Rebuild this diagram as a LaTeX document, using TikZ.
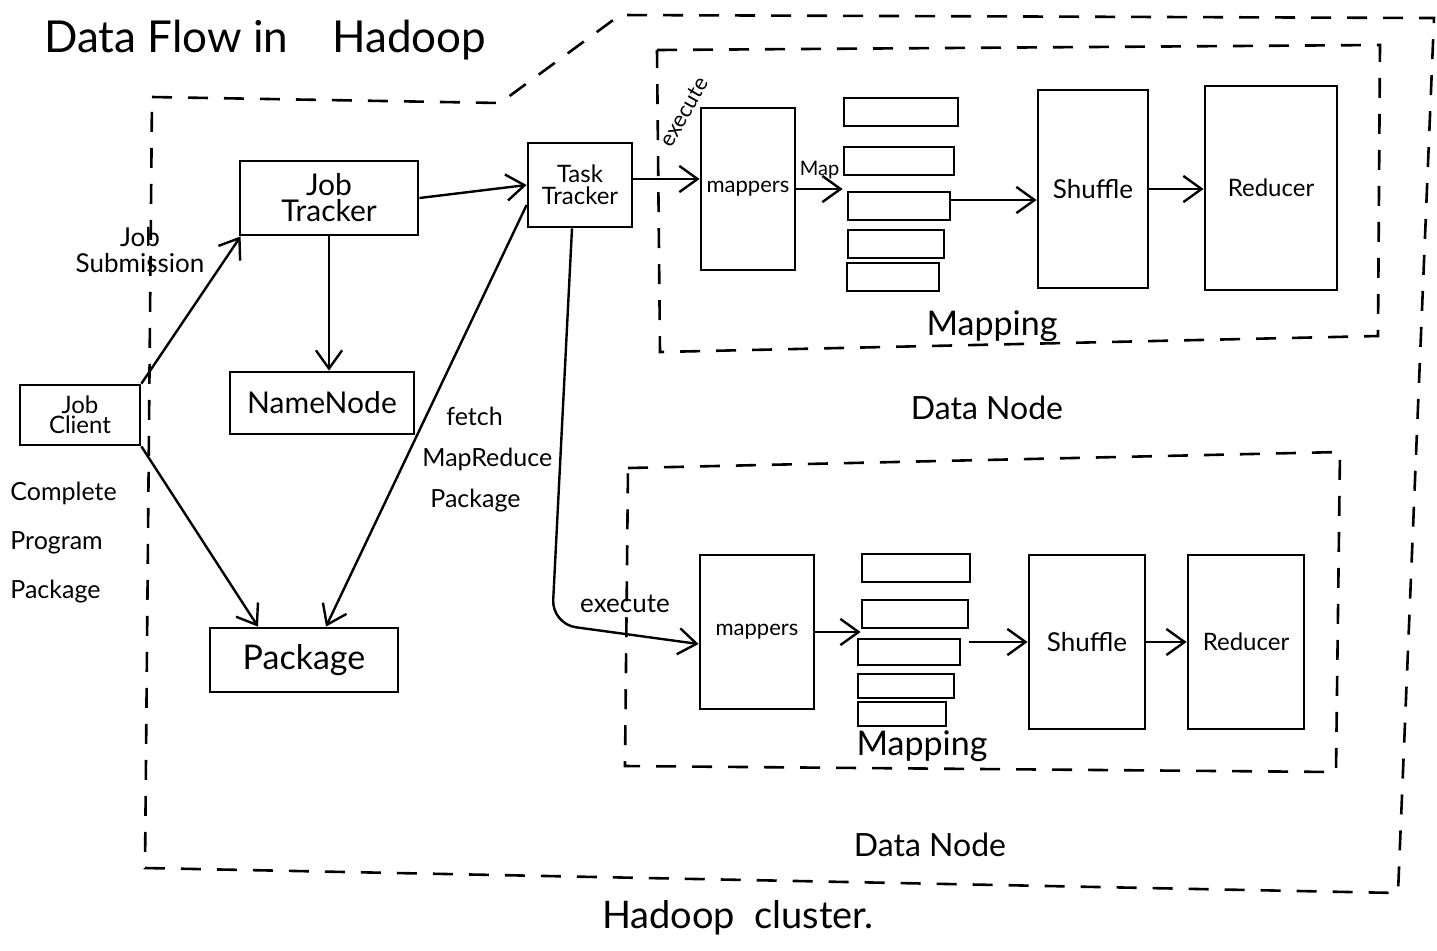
\documentclass[tikz,border=0pt]{standalone}
\usepackage{fontspec}
\setmainfont{Lato}
\usetikzlibrary{positioning, arrows.meta}

\newcommand{\fsz}[1]{\fontsize{#1}{#1}\selectfont}

\begin{document}
\begin{tikzpicture}[
    x=0.5pt, y=-0.5pt,
    >={Straight Barb[length=3.2mm, width=4.6mm, line width=1.2pt]},
    box/.style={draw, line width=1.4pt, align=center, inner sep=2pt},
    bar/.style={draw, line width=1.4pt, minimum height=14pt},
    zone/.style={line width=1.3pt, dash pattern=on 10pt off 8pt},
    flow/.style={->, line width=1.2pt},
    lbl/.style={align=left, inner sep=1pt},
  ]
  \useasboundingbox (0,0) rectangle (1437,950);

  % ============ Title ============
  \node[lbl, anchor=west, font=\fsz{22}] (title) at (42,40) {Data Flow in\quad Hadoop};

  % ============ Dashed zones ============
  % Hadoop cluster
  \draw[zone] (152,97) -- (500,103) -- (620,15) -- (1434,18)
    -- (1398,893) -- (145,868) -- cycle;
  % upper DataNode
  \draw[zone] (657,50) -- (1380,45) -- (1378,336) -- (660,352) -- cycle;
  % lower DataNode
  \draw[zone] (628,468) -- (1340,452) -- (1336,772) -- (625,766) -- cycle;

  % ============ Client side ============
  \node[box, minimum width=60pt, minimum height=30pt, font=\fsz{12}]
    (client) at (80,415) {Job\\[-2pt]Client};
  \node[box, minimum width=89pt, minimum height=37pt, font=\fsz{15}]
    (jt) at (329,198) {Job\\[-2pt]Tracker};
  \node[box, minimum width=92pt, minimum height=31pt, font=\fsz{15}]
    (nn) at (322,403) {NameNode};
  \node[box, minimum width=94pt, minimum height=32pt, font=\fsz{17}]
    (pkg) at (304,660) {Package};
  \node[box, minimum width=52pt, minimum height=42pt, font=\fsz{12}]
    (tt) at (580,185) {Task\\[-1pt]Tracker};

  % ============ Upper DataNode ============
  \node[box, minimum width=47pt, minimum height=81pt, font=\fsz{11}]
    (mapA) at (748,189) {mappers};
  \node[bar, minimum width=57pt] (a1) at (901,112) {};
  \node[bar, minimum width=55pt] (a2) at (899,161) {};
  \node[bar, minimum width=51pt] (a3) at (899,206) {};
  \node[bar, minimum width=48pt] (a4) at (896,244) {};
  \node[bar, minimum width=46pt] (a5) at (893,277) {};
  \node[box, minimum width=55pt, minimum height=99pt, font=\fsz{13}]
    (shufA) at (1093,189) {Shuffle};
  \node[box, minimum width=66pt, minimum height=102pt, font=\fsz{12}]
    (redA) at (1271,188) {Reducer};

  % ============ Lower DataNode ============
  \node[box, minimum width=57pt, minimum height=77pt, font=\fsz{11}]
    (mapB) at (757,632) {mappers};
  \node[bar, minimum width=54pt, minimum height=14pt] (b1) at (916,568) {};
  \node[bar, minimum width=53pt, minimum height=14pt] (b2) at (915,614) {};
  \node[bar, minimum width=51pt, minimum height=13pt] (b3) at (909,652) {};
  \node[bar, minimum width=48pt, minimum height=12pt] (b4) at (906,686) {};
  \node[bar, minimum width=44pt, minimum height=12pt] (b5) at (902,714) {};
  \node[box, minimum width=58pt, minimum height=87pt, font=\fsz{13}]
    (shufB) at (1087,642) {Shuffle};
  \node[box, minimum width=58pt, minimum height=87pt, font=\fsz{12}]
    (redB) at (1246,642) {Reducer};

  % ============ Labels ============
  \node[lbl, align=center, font=\fsz{13}] (sub) at (140,250) {Job\\Submission};
  \node[lbl, anchor=north west, font=\fsz{12.5}] (cpp) at (8,480)
    {Complete\\[12pt]Program\\[12pt]Package};
  \node[lbl, anchor=north west, font=\fsz{12.5}] (fetch) at (420,405)
    {\hspace{12pt}fetch\\[8pt]MapReduce\\[8pt]\hspace{4pt}Package};
  \node[lbl, rotate=60, font=\fsz{11}] (exA) at (684,112) {execute};
  \node[lbl, font=\fsz{13}] (exB) at (625,604) {execute};
  \node[lbl, font=\fsz{17}] (mpA) at (992,326) {Mapping};
  \node[lbl, font=\fsz{16}] (dnA) at (987,408) {Data Node};
  \node[lbl, font=\fsz{17}] (mpB) at (922,746) {Mapping};
  \node[lbl, font=\fsz{16}] (dnB) at (930,845) {Data Node};
  \node[lbl, font=\fsz{19}] (cluster) at (738,918) {Hadoop\enspace cluster.};

  % ============ Connections ============
  \draw[flow] (client.north east) -- ([xshift=1pt]jt.south west);
  \draw[flow] (jt.east) -- (tt.west);
  \draw[flow] (jt.south) -- (jt.south |- nn.north);
  \draw[flow] (client.south east) -- ([xshift=-23pt]pkg.north);
  \draw[flow] ([yshift=-10pt]tt.west) -- ([xshift=11pt]pkg.north);

  \draw[flow] ([yshift=3pt]tt.east) -- ([yshift=5pt]mapA.west);
  \draw[flow, rounded corners=12pt] ([xshift=-4pt]tt.south)
    -- ([xshift=-14pt,yshift=4pt]tt.south |- mapB.west)
    -- ([yshift=-6pt]mapB.west);

  \draw[flow] (mapA.east) -- node[above=1pt, font=\fsz{10}] {Map} (mapA.east -| a2.west);
  \draw[flow] ([yshift=3pt]a3.east) -- ([yshift=3pt]a3.east -| shufA.west);
  \draw[flow] (shufA.east) -- (shufA.east -| redA.west);

  \draw[flow] (mapB.east) -- (mapB.east -| b2.west);
  \draw[flow] (b2.east |- shufB.west) -- (shufB.west);
  \draw[flow] (shufB.east) -- (redB.west);

\end{tikzpicture}
\end{document}
